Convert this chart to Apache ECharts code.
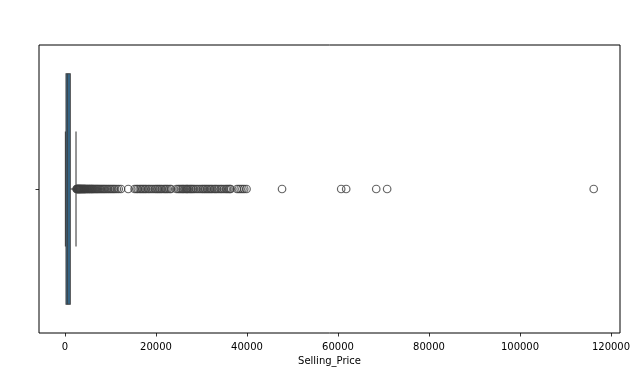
<!DOCTYPE html>
<html>
<head>
<meta charset="utf-8">
<script src="https://cdn.jsdelivr.net/npm/echarts@6/dist/echarts.min.js"></script>
<style>html,body{margin:0;padding:0;background:#fff}#c{width:640px;height:375px}</style>
</head>
<body>
<div id="c"></div>
<script>
// Box statistics: [lower whisker, Q1, median, Q3, upper whisker]
const categories = [''];
const boxStats = [90, 230, 600, 1150, 2420];
// Outlier values (Selling_Price)
const outliers = [
  2550, 2620, 2700, 2780, 2850, 2930, 3000, 3080, 3150, 3230, 3300, 3400, 3480, 3560, 3650,
  3750, 3850, 3950, 4050, 4150, 4250, 4350, 4450, 4550, 4700, 4850, 5000, 5150, 5300, 5450,
  5600, 5750, 5900, 6050, 6200, 6400, 6600, 6800, 7000, 7200, 7400, 7650, 7900, 8150, 8400,
  8650, 8900, 9200, 9500, 9800, 10100, 10400, 10700, 11000, 11400, 11800, 12300,
  13900, 15300, 15700, 16000, 16400, 16700, 17000, 17300, 17600, 17900, 18300, 18600, 19000,
  19400, 19800, 20100, 20400, 20700, 21000, 21300, 21700, 22000, 22300, 22600, 23000, 23300,
  24500, 24900, 25200, 25500, 25800, 26000, 26300, 26600, 26800, 27000, 27300, 27600, 27800,
  28100, 28400, 28800, 29200, 29600, 30000, 30300, 30600, 30900, 31200, 31500, 31800, 32100,
  32400, 32800, 33100, 33400, 33800, 34200, 34500, 34900, 35300, 35600, 35900, 36200, 36400,
  37800, 38200, 38600, 39000, 39400, 39900,
  47700, 60700, 61800, 68400, 70800, 116200
];
const xTicks = [0, 20000, 40000, 60000, 80000, 100000, 120000];
const xMin = -5714, xMax = 121978;

const edge = '#3f3f3f';
const fill = '#3274a1';

const chart = echarts.init(document.getElementById('c'), null, {renderer: 'canvas'});
chart.setOption({
  animation: false,
  backgroundColor: '#fff',
  grid: {left: 39, right: 20, top: 45, bottom: 42, show: true, borderColor: '#000', borderWidth: 1, backgroundColor: 'transparent'},
  xAxis: {
    type: 'value', min: xMin, max: xMax,
    name: 'Selling_Price', nameLocation: 'middle', nameGap: 22,
    nameTextStyle: {fontFamily: 'DejaVu Sans', fontSize: 10, color: '#000'},
    axisLine: {show: false, onZero: false},
    axisTick: {show: true, length: 3.5, lineStyle: {color: '#000', width: 0.8}, customValues: xTicks},
    axisLabel: {fontFamily: 'DejaVu Sans', fontSize: 10, color: '#000', margin: 9, customValues: xTicks, formatter: v => String(v)},
    splitLine: {show: false}
  },
  yAxis: {
    type: 'category', data: categories, boundaryGap: true,
    axisLine: {show: false, onZero: false},
    axisTick: {show: true, alignWithLabel: true, length: 3.5, lineStyle: {color: '#000', width: 0.8}},
    axisLabel: {show: false},
    splitLine: {show: false}
  },
  series: [
    {
      type: 'custom',
      z: 2,
      data: [[0].concat(boxStats)],
      encode: {x: [1, 2, 3, 4, 5], y: 0},
      renderItem: function (params, api) {
        const c = api.value(0);
        const lo = api.coord([api.value(1), c]);
        const q1 = api.coord([api.value(2), c]);
        const md = api.coord([api.value(3), c]);
        const q3 = api.coord([api.value(4), c]);
        const hi = api.coord([api.value(5), c]);
        const band = api.size([0, 1])[1];
        const h = band * 0.8, ch = band * 0.4;
        const yc = q1[1];
        const ls = {stroke: edge, lineWidth: 1.1, fill: null};
        return {
          type: 'group',
          children: [
            {type: 'line', shape: {x1: lo[0], y1: yc, x2: q1[0], y2: yc}, style: ls},
            {type: 'line', shape: {x1: q3[0], y1: yc, x2: hi[0], y2: yc}, style: ls},
            {type: 'line', shape: {x1: lo[0], y1: yc - ch / 2, x2: lo[0], y2: yc + ch / 2}, style: ls},
            {type: 'line', shape: {x1: hi[0], y1: yc - ch / 2, x2: hi[0], y2: yc + ch / 2}, style: ls},
            {type: 'rect', shape: {x: q1[0], y: yc - h / 2, width: q3[0] - q1[0], height: h}, style: {fill: fill, stroke: edge, lineWidth: 1.1}},
            {type: 'line', shape: {x1: md[0], y1: yc - h / 2, x2: md[0], y2: yc + h / 2}, style: ls}
          ]
        };
      }
    },
    {
      type: 'scatter',
      z: 3,
      symbol: 'circle',
      symbolSize: 7.5,
      data: outliers.map(v => [v, 0]),
      itemStyle: {color: 'rgba(0,0,0,0)', borderColor: '#3f3f3f', borderWidth: 1.2},
      emphasis: {disabled: true}
    }
  ]
});
</script>
</body>
</html>
